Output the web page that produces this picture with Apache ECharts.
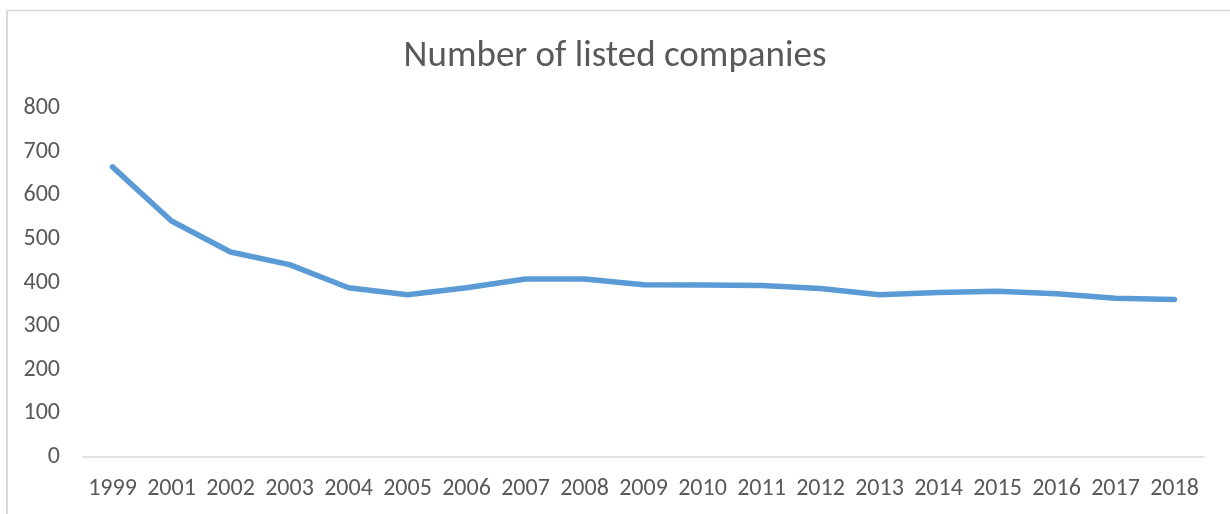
<!DOCTYPE html>
<html>
<head>
<meta charset="utf-8">
<script src="https://cdn.jsdelivr.net/npm/echarts@6/dist/echarts.min.js"></script>
<style>
  html, body { margin: 0; padding: 0; background: #ffffff; }
  #chart { width: 1230px; height: 514px; }
</style>
</head>
<body>
<div id="chart"></div>
<script>
// Listed companies per year
const years = ['1999', '2001', '2002', '2003', '2004', '2005', '2006', '2007', '2008', '2009',
               '2010', '2011', '2012', '2013', '2014', '2015', '2016', '2017', '2018'];
const listedCompanies = [665, 541, 470, 441, 388, 372, 388, 408, 408, 395,
                         394, 393, 386, 372, 377, 380, 374, 364, 361];
const yTicks = { min: 0, max: 800, interval: 100 };

const textColor = '#595959';
const fontFamily = 'Calibri, Carlito, "Open Sans", "Noto Sans", sans-serif';

const chart = echarts.init(document.getElementById('chart'), null, { renderer: 'canvas' });
chart.setOption({
  animation: false,
  backgroundColor: '#ffffff',
  title: {
    text: 'Number of listed companies',
    left: 'center',
    top: 33,
    textStyle: { color: textColor, fontSize: 37, fontWeight: 'normal', fontFamily: fontFamily }
  },
  graphic: [
    // chart-area frame (left and top edges)
    { type: 'line', shape: { x1: 7, y1: 10, x2: 7, y2: 514 }, style: { stroke: '#d9d9d9', lineWidth: 2 } },
    { type: 'line', shape: { x1: 6, y1: 10.5, x2: 1230, y2: 10.5 }, style: { stroke: '#d9d9d9', lineWidth: 1.5 } }
  ],
  grid: { left: 83, right: 26, top: 108, bottom: 57, containLabel: false },
  xAxis: {
    type: 'category',
    data: years,
    boundaryGap: true,
    axisLine: { show: true, lineStyle: { color: '#d9d9d9', width: 1.5 } },
    axisTick: { show: false },
    axisLabel: { color: textColor, fontSize: 24, fontFamily: fontFamily, margin: 20, interval: 0 }
  },
  yAxis: {
    type: 'value',
    min: yTicks.min,
    max: yTicks.max,
    interval: yTicks.interval,
    axisLine: { show: false },
    axisTick: { show: false },
    splitLine: { show: false },
    axisLabel: { color: textColor, fontSize: 24, fontFamily: fontFamily, margin: 23 }
  },
  series: [{
    type: 'line',
    data: listedCompanies,
    symbol: 'none',
    smooth: false,
    lineStyle: { color: '#5b9bd5', width: 5.5, cap: 'round', join: 'round' }
  }]
});
</script>
</body>
</html>
